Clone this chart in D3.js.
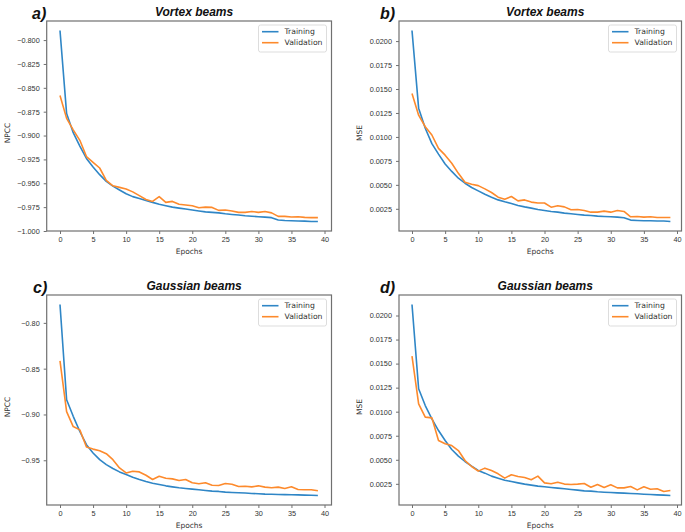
<!DOCTYPE html>
<html>
<head>
<meta charset="utf-8">
<script src="https://cdn.jsdelivr.net/npm/d3@7"></script>
<style>
  html, body { margin: 0; padding: 0; background: #fff; }
  svg { display: block; }
</style>
</head>
<body>
<div id="chart"></div>
<script>
  // Epoch index on the x axis
  const epochs = [0, 1, 2, 3, 4, 5, 6, 7, 8, 9, 10, 11, 12, 13, 14, 15, 16, 17, 18, 19,
    20, 21, 22, 23, 24, 25, 26, 27, 28, 29, 30, 31, 32, 33, 34, 35, 36, 37, 38, 39];

  // a) Vortex beams, NPCC
  const vortexNpccTrain = [-0.790, -0.877, -0.897, -0.911, -0.924, -0.933, -0.941, -0.948, -0.953, -0.957,
    -0.961, -0.964, -0.966, -0.968, -0.970, -0.972, -0.9735, -0.975, -0.976, -0.977,
    -0.978, -0.979, -0.980, -0.9805, -0.981, -0.982, -0.9827, -0.9833, -0.984, -0.9845,
    -0.985, -0.9855, -0.986, -0.9885, -0.989, -0.9893, -0.9895, -0.9897, -0.990, -0.990];
  const vortexNpccVal = [-0.858, -0.882, -0.894, -0.905, -0.922, -0.928, -0.934, -0.947, -0.9526, -0.9543,
    -0.956, -0.959, -0.963, -0.967, -0.969, -0.964, -0.970, -0.969, -0.972, -0.9728,
    -0.9735, -0.9756, -0.975, -0.9753, -0.9784, -0.978, -0.979, -0.9805, -0.9805, -0.9795,
    -0.9805, -0.9795, -0.981, -0.9847, -0.9847, -0.9854, -0.985, -0.9857, -0.986, -0.986];

  // b) Vortex beams, MSE
  const vortexMseTrain = [0.0211, 0.0130, 0.0109, 0.0093, 0.0082, 0.00718, 0.0064, 0.00569, 0.00517, 0.00472,
    0.00437, 0.00402, 0.00371, 0.00343, 0.00323, 0.00305, 0.00285, 0.0027, 0.00257, 0.00243,
    0.00233, 0.00222, 0.00215, 0.00205, 0.00198, 0.00191, 0.00184, 0.0018, 0.00174, 0.0017,
    0.00167, 0.00163, 0.00156, 0.00132, 0.00128, 0.00125, 0.00125, 0.00122, 0.00122, 0.00118];
  const vortexMseVal = [0.01452, 0.01227, 0.01106, 0.0102, 0.0088, 0.0081, 0.00725, 0.0062, 0.00527, 0.00506,
    0.00492, 0.00458, 0.0042, 0.00371, 0.0035, 0.00378, 0.00333, 0.00343, 0.0032, 0.0031,
    0.0031, 0.00267, 0.00281, 0.0027, 0.0024, 0.00243, 0.00233, 0.00215, 0.00215, 0.00226,
    0.00215, 0.00233, 0.00222, 0.00167, 0.0017, 0.00163, 0.00167, 0.0016, 0.0016, 0.0016];

  // c) Gaussian beams, NPCC
  const gaussNpccTrain = [-0.780, -0.884, -0.902, -0.9186, -0.933, -0.942, -0.9493, -0.9547, -0.959, -0.9627,
    -0.9656, -0.9685, -0.971, -0.9732, -0.975, -0.9764, -0.9779, -0.979, -0.980, -0.9808,
    -0.9815, -0.9822, -0.983, -0.9837, -0.984, -0.9848, -0.9851, -0.9855, -0.9858, -0.9862,
    -0.9866, -0.987, -0.9871, -0.9873, -0.9875, -0.9876, -0.9878, -0.988, -0.9881, -0.9884];
  const gaussNpccVal = [-0.8416, -0.8969, -0.9132, -0.9168, -0.9356, -0.9378, -0.9395, -0.9428, -0.9493, -0.9584,
    -0.9638, -0.962, -0.9627, -0.9663, -0.971, -0.9674, -0.9696, -0.9703, -0.9721, -0.971,
    -0.9746, -0.9757, -0.9746, -0.9772, -0.9775, -0.9754, -0.9761, -0.9786, -0.9783, -0.979,
    -0.9779, -0.9793, -0.980, -0.9793, -0.9808, -0.979, -0.9819, -0.9822, -0.9822, -0.9833];

  // d) Gaussian beams, MSE
  const gaussMseTrain = [0.02114, 0.01238, 0.01064, 0.00926, 0.00804, 0.0070, 0.00607, 0.00538, 0.00482, 0.00434,
    0.00389, 0.00361, 0.0033, 0.00309, 0.00288, 0.00274, 0.0026, 0.00247, 0.00236, 0.00226,
    0.00219, 0.00212, 0.00205, 0.00198, 0.00191, 0.00184, 0.00177, 0.00174, 0.00167, 0.00163,
    0.0016, 0.00156, 0.00153, 0.00149, 0.00146, 0.00142, 0.00139, 0.00135, 0.00132, 0.00129];
  const gaussMseVal = [0.01577, 0.01082, 0.00943, 0.00936, 0.0070, 0.00666, 0.00648, 0.00596, 0.00492, 0.0043,
    0.00382, 0.00413, 0.00389, 0.00354, 0.00309, 0.00344, 0.00326, 0.00316, 0.00292, 0.0033,
    0.0026, 0.0025, 0.00267, 0.00247, 0.00243, 0.00247, 0.00253, 0.00215, 0.00243, 0.00212,
    0.0024, 0.00208, 0.00208, 0.00222, 0.00187, 0.00219, 0.00194, 0.00198, 0.0017, 0.00181];

  // Tick values
  const xTicks = [0, 5, 10, 15, 20, 25, 30, 35, 40];
  const npccTicksVortex = [-1.000, -0.975, -0.950, -0.925, -0.900, -0.875, -0.850, -0.825, -0.800];
  const npccTicksGauss = [-0.95, -0.90, -0.85, -0.80];
  const mseTicks = [0.0025, 0.0050, 0.0075, 0.0100, 0.0125, 0.0150, 0.0175, 0.0200];

  const seriesNames = ['Training', 'Validation'];
  const colors = { Training: '#2f86c6', Validation: '#fd8a2c' };

  const width = 685, height = 532;
  const svg = d3.select('#chart').append('svg')
    .attr('width', width)
    .attr('height', height)
    .style('font-family', '"DejaVu Sans", sans-serif');

  // layout for the four panels
  const panels = [
    { tag: 'a)', title: 'Vortex beams', ylabel: 'NPCC', train: vortexNpccTrain, val: vortexNpccVal,
      ticks: npccTicksVortex, fmt: '.3f', left: 46.7, right: 331.5, top: 21, bottom: 231, x0: 60, x40: 324.5, tagX: 32, ylabX: 10 },
    { tag: 'b)', title: 'Vortex beams', ylabel: 'MSE', train: vortexMseTrain, val: vortexMseVal,
      ticks: mseTicks, fmt: '.4f', left: 399, right: 681.5, top: 21, bottom: 231, x0: 412, x40: 677, tagX: 380, ylabX: 361.5 },
    { tag: 'c)', title: 'Gaussian beams', ylabel: 'NPCC', train: gaussNpccTrain, val: gaussNpccVal,
      ticks: npccTicksGauss, fmt: '.2f', left: 46.7, right: 331.5, top: 295, bottom: 505, x0: 60, x40: 324.5, tagX: 33, ylabX: 10 },
    { tag: 'd)', title: 'Gaussian beams', ylabel: 'MSE', train: gaussMseTrain, val: gaussMseVal,
      ticks: mseTicks, fmt: '.4f', left: 399, right: 681.5, top: 295, bottom: 505, x0: 412, x40: 677, tagX: 380, ylabX: 361.5 }
  ];

  const frameColor = '#707070';
  const textColor = '#333';

  panels.forEach(function(p) {
    const g = svg.append('g');

    const x = d3.scaleLinear().domain([0, 40]).range([p.x0, p.x40]);

    // matplotlib-like 5% padding around the data
    const all = p.train.concat(p.val);
    const lo = d3.min(all), hi = d3.max(all);
    const pad = (hi - lo) * 0.05;
    const y = d3.scaleLinear().domain([lo - pad, hi + pad]).range([p.bottom, p.top]);

    // lines
    const line = d3.line()
      .x(function(d, i) { return x(epochs[i]); })
      .y(function(d) { return y(d); });

    g.append('path')
      .datum(p.train)
      .attr('d', line)
      .attr('fill', 'none')
      .attr('stroke', colors.Training)
      .attr('stroke-width', 1.6)
      .attr('stroke-linejoin', 'round');

    g.append('path')
      .datum(p.val)
      .attr('d', line)
      .attr('fill', 'none')
      .attr('stroke', colors.Validation)
      .attr('stroke-width', 1.6)
      .attr('stroke-linejoin', 'round');

    // x axis
    const xAxis = g.append('g')
      .attr('transform', 'translate(0,' + p.bottom + ')')
      .call(d3.axisBottom(x).tickValues(xTicks).tickSize(3).tickPadding(2.5).tickFormat(d3.format('d')));
    xAxis.select('.domain').remove();
    xAxis.selectAll('line').attr('stroke', frameColor);
    xAxis.selectAll('text').attr('fill', textColor).style('font-size', '7.3px');

    // y axis
    const yAxis = g.append('g')
      .attr('transform', 'translate(' + p.left + ',0)')
      .call(d3.axisLeft(y).tickValues(p.ticks).tickSize(3).tickPadding(4).tickFormat(d3.format(p.fmt)));
    yAxis.select('.domain').remove();
    yAxis.selectAll('line').attr('stroke', frameColor);
    yAxis.selectAll('text').attr('fill', textColor).style('font-size', '7.3px');

    // frame
    g.append('rect')
      .attr('x', p.left)
      .attr('y', p.top)
      .attr('width', p.right - p.left)
      .attr('height', p.bottom - p.top)
      .attr('fill', 'none')
      .attr('stroke', frameColor)
      .attr('stroke-width', 1.2);

    // axis labels
    g.append('text')
      .attr('x', (p.left + p.right) / 2)
      .attr('y', p.bottom + 23)
      .attr('text-anchor', 'middle')
      .attr('fill', textColor)
      .style('font-size', '7.5px')
      .text('Epochs');

    g.append('text')
      .attr('transform', 'translate(' + p.ylabX + ',' + ((p.top + p.bottom) / 2 + 7) + ') rotate(-90)')
      .attr('text-anchor', 'middle')
      .attr('fill', textColor)
      .style('font-size', '7.5px')
      .text(p.ylabel);

    // title and panel tag
    g.append('text')
      .attr('x', (p.left + p.right) / 2 + 5)
      .attr('y', p.top - 5)
      .attr('text-anchor', 'middle')
      .attr('fill', '#111')
      .style('font-family', '"Liberation Sans", Arial, sans-serif')
      .style('font-size', '12px')
      .style('font-weight', 'bold')
      .style('font-style', 'italic')
      .text(p.title);

    g.append('text')
      .attr('x', p.tagX)
      .attr('y', p.top - 2.5)
      .attr('fill', '#111')
      .style('font-family', '"Liberation Sans", Arial, sans-serif')
      .style('font-size', '16px')
      .style('font-weight', 'bold')
      .style('font-style', 'italic')
      .text(p.tag);

    // legend
    const lw = 68, lh = 27;
    const lx = p.right - 5 - lw, ly = p.top + 4;
    const legend = g.append('g').attr('transform', 'translate(' + lx + ',' + ly + ')');
    legend.append('rect')
      .attr('width', lw)
      .attr('height', lh)
      .attr('rx', 2)
      .attr('fill', '#fff')
      .attr('stroke', '#d4d4d4')
      .attr('stroke-width', 0.8);

    seriesNames.forEach(function(name, i) {
      const yy = 6.7 + i * 11;
      legend.append('line')
        .attr('x1', 3.5)
        .attr('x2', 20)
        .attr('y1', yy)
        .attr('y2', yy)
        .attr('stroke', colors[name])
        .attr('stroke-width', 1.6);
      legend.append('text')
        .attr('x', 26)
        .attr('y', yy)
        .attr('dy', '0.35em')
        .attr('fill', textColor)
        .style('font-size', '7.7px')
        .text(name);
    });
  });
</script>
</body>
</html>
